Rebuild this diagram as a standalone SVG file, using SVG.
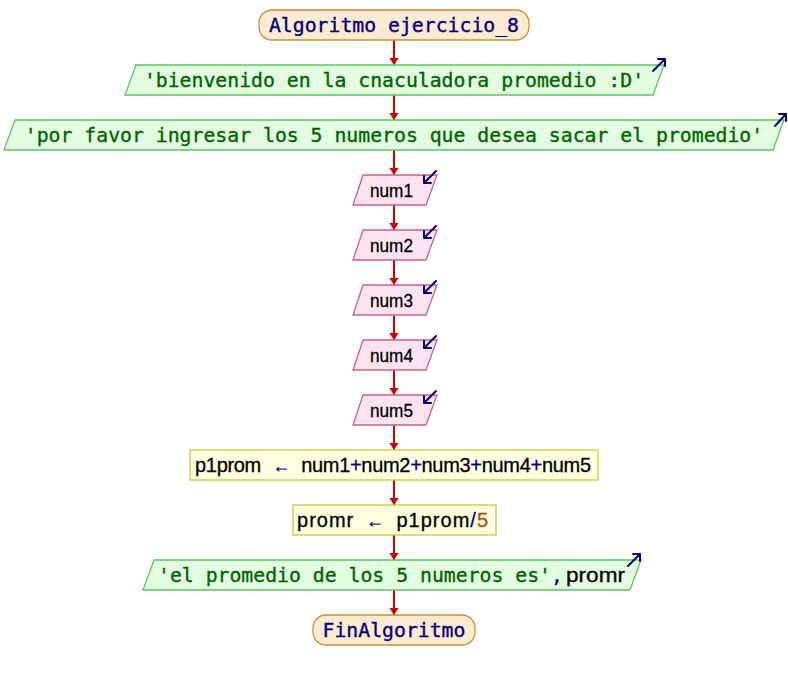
<svg xmlns="http://www.w3.org/2000/svg" width="788" height="680" viewBox="0 0 788 680">
<defs>
<style>
.term{fill:#fdebd0;stroke:#c8903c;stroke-width:1.3}
.out{fill:#e3fde0;stroke:#5ec25e;stroke-width:1.3}
.in{fill:#fde3ef;stroke:#c8608a;stroke-width:1.3}
.asg{fill:#ffffe0;stroke:#c8c83c;stroke-width:1.3}
.mono{font-family:"DejaVu Sans Mono","Liberation Mono",monospace;font-size:19.8px}
.sans{font-family:"Liberation Sans",Arial,sans-serif;font-size:20px}
.kw{fill:#000080;stroke:#000080;stroke-width:0.35}
.str{fill:#006400;stroke:#006400;stroke-width:0.35}
.var{fill:#000000;stroke:#000000;stroke-width:0.3}
.op{fill:#000080;stroke:#000080;stroke-width:0.3}
.lit{fill:#a0522d;stroke:#a0522d;stroke-width:0.3}
.arr{font-size:18px}
.icon{fill:none;stroke:#000080;stroke-width:2;stroke-linecap:round;stroke-linejoin:round}
.conn line{stroke:#cc0000;stroke-width:2;marker-end:url(#ah)}
</style>
<marker id="ah" markerUnits="userSpaceOnUse" markerWidth="10" markerHeight="10" viewBox="-8 -5 10 10" refX="0" refY="0" orient="auto">
<path d="M-7,-4.6 L0,0 L-7,4.6 z" fill="#cc0000"/>
</marker>
</defs>
<rect width="788" height="680" fill="#ffffff"/>

<g id="connectors" class="conn">
<line x1="394" y1="40" x2="394" y2="65"/>
<line x1="394" y1="95" x2="394" y2="120"/>
<line x1="394" y1="150" x2="394" y2="175"/>
<line x1="394" y1="205" x2="394" y2="230"/>
<line x1="394" y1="260" x2="394" y2="285"/>
<line x1="394" y1="315" x2="394" y2="340"/>
<line x1="394" y1="370" x2="394" y2="395"/>
<line x1="394" y1="425" x2="394" y2="450"/>
<line x1="394" y1="480" x2="394" y2="505"/>
<line x1="394" y1="535" x2="394" y2="560"/>
<line x1="394" y1="590" x2="394" y2="615"/>
</g>

<g id="start">
<rect class="term" x="259" y="10" width="270" height="30" rx="13" ry="13"/>
<text class="mono kw" x="394" y="31.5" text-anchor="middle">Algoritmo ejercicio_8</text>
</g>

<g id="out1">
<polygon class="out" points="136,65 664,65 653,95 125,95"/>
<text class="mono str" x="394" y="86.5" text-anchor="middle">'bienvenido en la cnaculadora promedio :D'</text>
<path class="icon" d="M653,71 L665,59 M658,59 L665,59 L665,66"/>
</g>

<g id="out2">
<polygon class="out" points="15,120 784,120 773,150 4,150"/>
<text class="mono str" x="394" y="141.5" text-anchor="middle">'por favor ingresar los 5 numeros que desea sacar el promedio'</text>
<path class="icon" d="M775,126 L786,114 M779,114 L786,114 L786,121"/>
</g>

<g id="in1">
<polygon class="in" points="363,175 437,175 426,205 353,205"/>
<text class="sans var" x="370" y="196.5" textLength="43" lengthAdjust="spacingAndGlyphs" style="font-size:19px">num1</text>
<path class="icon" d="M436,171 L424,183 M431,183 L424,183 L424,176"/>
</g>

<g id="in2">
<polygon class="in" points="363,230 437,230 426,260 353,260"/>
<text class="sans var" x="370" y="251.5" textLength="43" lengthAdjust="spacingAndGlyphs" style="font-size:19px">num2</text>
<path class="icon" d="M436,226 L424,238 M431,238 L424,238 L424,231"/>
</g>

<g id="in3">
<polygon class="in" points="363,285 437,285 426,315 353,315"/>
<text class="sans var" x="370" y="306.5" textLength="43" lengthAdjust="spacingAndGlyphs" style="font-size:19px">num3</text>
<path class="icon" d="M436,281 L424,293 M431,293 L424,293 L424,286"/>
</g>

<g id="in4">
<polygon class="in" points="363,340 437,340 426,370 353,370"/>
<text class="sans var" x="370" y="361.5" textLength="43" lengthAdjust="spacingAndGlyphs" style="font-size:19px">num4</text>
<path class="icon" d="M436,336 L424,348 M431,348 L424,348 L424,341"/>
</g>

<g id="in5">
<polygon class="in" points="363,395 437,395 426,425 353,425"/>
<text class="sans var" x="370" y="416.5" textLength="43" lengthAdjust="spacingAndGlyphs" style="font-size:19px">num5</text>
<path class="icon" d="M436,391 L424,403 M431,403 L424,403 L424,396"/>
</g>

<g id="assign1">
<rect class="asg" x="190" y="450" width="408" height="30"/>
<text class="sans" x="195" y="471.5" textLength="396" lengthAdjust="spacing" word-spacing="6"><tspan class="var">p1prom </tspan><tspan class="op arr">←</tspan><tspan class="var"> num1</tspan><tspan class="op">+</tspan><tspan class="var">num2</tspan><tspan class="op">+</tspan><tspan class="var">num3</tspan><tspan class="op">+</tspan><tspan class="var">num4</tspan><tspan class="op">+</tspan><tspan class="var">num5</tspan></text>
</g>

<g id="assign2">
<rect class="asg" x="293" y="505" width="203" height="30"/>
<text class="sans" x="297" y="526.5" textLength="191" lengthAdjust="spacing" word-spacing="5"><tspan class="var">promr </tspan><tspan class="op arr">←</tspan><tspan class="var"> p1prom</tspan><tspan class="op">/</tspan><tspan class="lit">5</tspan></text>
</g>

<g id="out3">
<polygon class="out" points="154,560 641,560 630,590 143,590"/>
<text y="581.5"><tspan class="mono str" x="158">'el promedio de los 5 numeros es'</tspan><tspan class="mono op">,</tspan><tspan class="sans var" x="566" textLength="59" lengthAdjust="spacingAndGlyphs">promr</tspan></text>
<path class="icon" d="M628,566 L640,554 M633,554 L640,554 L640,561"/>
</g>

<g id="end">
<rect class="term" x="313" y="615" width="162" height="30" rx="13" ry="13"/>
<text class="mono kw" x="394" y="636.5" text-anchor="middle">FinAlgoritmo</text>
</g>
</svg>
